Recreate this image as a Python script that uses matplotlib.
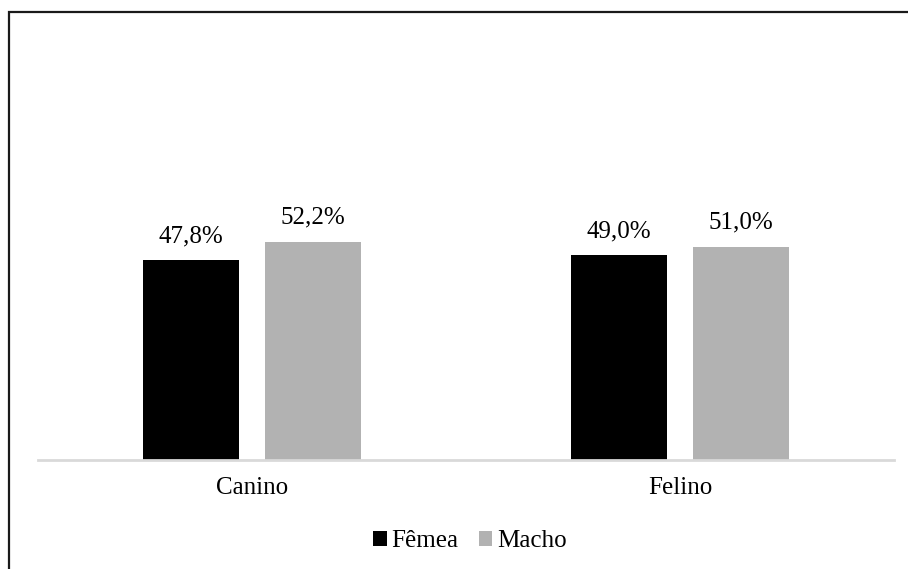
import numpy as np
import matplotlib.pyplot as plt
from matplotlib.patches import Rectangle

plt.rcParams['font.family'] = ['Liberation Serif', 'DejaVu Serif']

# Sex distribution by species (%)
especies = ['Canino', 'Felino']
femea = [47.8, 49.0]
macho = [52.2, 51.0]
series = ['Fêmea', 'Macho']

W, H = 908, 569
fig = plt.figure(figsize=(W / 100, H / 100), dpi=100)
ax = fig.add_axes([38 / W, 1 - 460 / H, (894 - 38) / W, (460 - 42) / H])

x = np.arange(len(especies))
width = 0.224
offset = 0.1425
b1 = ax.bar(x - offset, femea, width, color='#000000', label=series[0])
b2 = ax.bar(x + offset, macho, width, color='#B2B2B2', label=series[1])

for bars, vals in ((b1, femea), (b2, macho)):
    for rect, v in zip(bars, vals):
        ax.annotate(f'{v:.1f}%'.replace('.', ','),
                    (rect.get_x() + rect.get_width() / 2, v),
                    xytext=(0, 13), textcoords='offset points',
                    ha='center', va='baseline', fontsize=18)

ax.set_xlim(-0.5, 1.5)
ax.set_ylim(0, 100)
ax.set_xticks(x)
ax.set_xticklabels(especies, fontsize=18)
ax.tick_params(axis='x', length=0, pad=12)
ax.set_yticks([])
for s in ('top', 'right', 'left'):
    ax.spines[s].set_visible(False)
ax.spines['bottom'].set_color('#D9D9D9')
ax.spines['bottom'].set_linewidth(2)

fig.legend(handles=[b1, b2], labels=series, loc='center',
           bbox_to_anchor=(470 / W, 1 - 541 / H), ncol=2, frameon=False,
           fontsize=18, handlelength=0.55, handleheight=0.55,
           handletextpad=0.2, columnspacing=0.8)

# outer frame around the chart
fig.add_artist(Rectangle((9 / W, -0.1), 1.2, 1 - 12 / H + 0.1,
                         transform=fig.transFigure, fill=False,
                         edgecolor='#1a1a1a', linewidth=1.6))

fig.savefig('out.png', dpi=100, facecolor='white')
